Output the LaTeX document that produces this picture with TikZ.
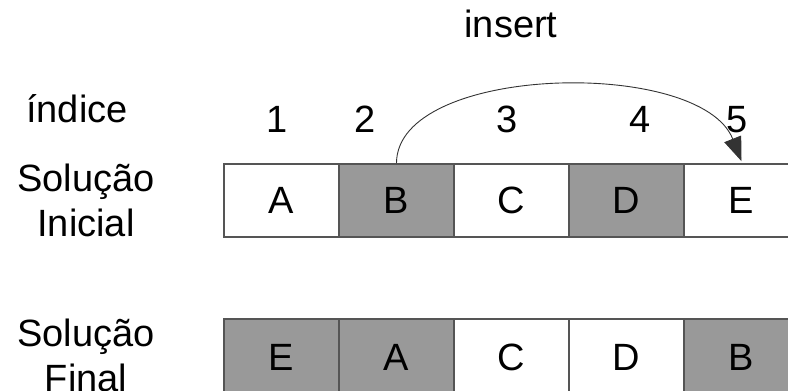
\documentclass[tikz,border=0pt]{standalone}
\usepackage{fontspec}
\setmainfont{Liberation Sans}
\usetikzlibrary{arrows.meta}
\definecolor{cellgray}{HTML}{999999}
\definecolor{cellline}{HTML}{555555}
\begin{document}
\begin{tikzpicture}[x=1pt,y=1pt,
  every node/.style={font=\fontsize{38}{45}\selectfont, inner sep=0pt},
  cell/.style={draw=cellline, line width=1.6pt, minimum width=115pt, minimum height=73pt, fill=white},
  darkcell/.style={cell, fill=cellgray},
  lbl/.style={anchor=base},
  movearrow/.style={draw=black!80, line width=0.9pt, -{Triangle[length=24pt,width=18pt]}}
]
\useasboundingbox (0,0) rectangle (788,391);

% header and index labels
\node[lbl] (ins) at (511,353) {insert};
\node[lbl] (idx) at (77,268) {índice};
\node[lbl] (n1) at (277,258) {1};
\node[lbl] (n2) at (365,258) {2};
\node[lbl] (n3) at (507,258) {3};
\node[lbl] (n4) at (640,258) {4};
\node[lbl] (n5) at (737,258) {5};

% row labels
\node[lbl] (iniA) at (86,199) {Solução};
\node[lbl] (iniB) at (86,154) {Inicial};
\node[lbl] (finA) at (86,44) {Solução};
\node[lbl] (finB) at (86,-1) {Final};

% initial solution
\node[cell]     (a1) at (281.5,190.5) {A};
\node[darkcell] (b1) at (396.5,190.5) {B};
\node[cell]     (c1) at (511.5,190.5) {C};
\node[darkcell] (d1) at (626.5,190.5) {D};
\node[cell]     (e1) at (741.5,190.5) {E};

% final solution
\node[darkcell, minimum height=76pt] (e2) at (281.5,34) {E};
\node[darkcell, minimum height=76pt] (a2) at (396.5,34) {A};
\node[cell, minimum height=76pt]     (c2) at (511.5,34) {C};
\node[cell, minimum height=76pt]     (d2) at (626.5,34) {D};
\node[darkcell, minimum height=76pt] (b2) at (741.5,34) {B};

% insert move: B goes after E
\draw[movearrow] (b1.north) .. controls +(0,99) and +(-41,104) .. ([yshift=2pt]e1.north);
\end{tikzpicture}
\end{document}
